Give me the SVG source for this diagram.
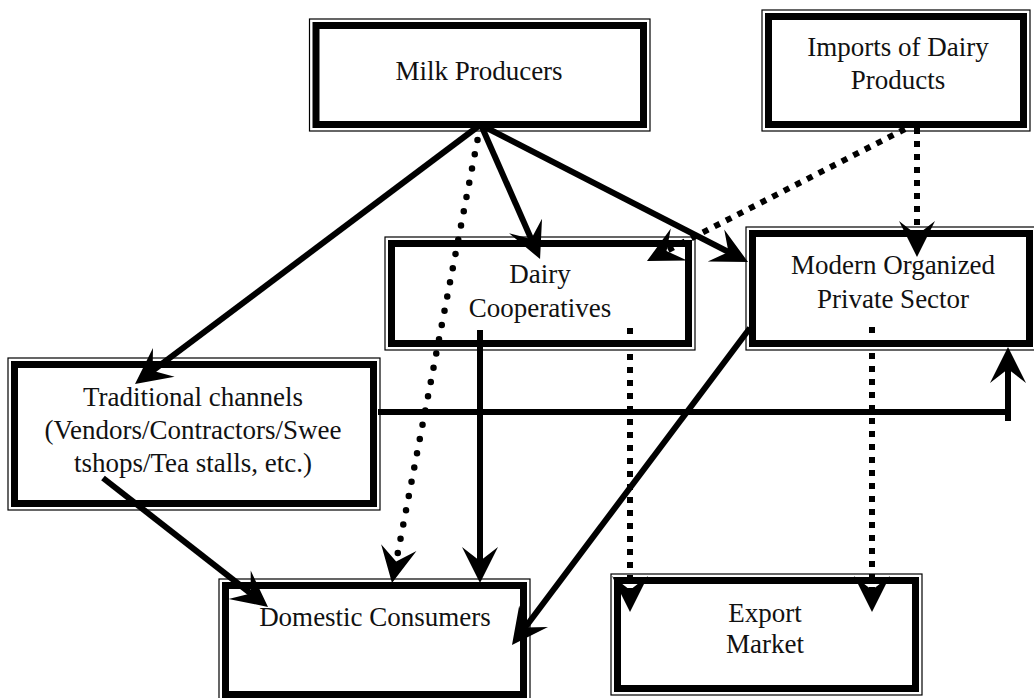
<svg xmlns="http://www.w3.org/2000/svg" width="1034" height="698" viewBox="0 0 1034 698">
<style>
.outer{fill:#fff;stroke:#000;stroke-width:1.2}
.inner{fill:none;stroke:#000;stroke-width:7}
.t{font-family:"Liberation Serif","Times New Roman",serif;font-size:27px;fill:#111;text-anchor:middle}
.solid{fill:none;stroke:#000;stroke-width:6}
.dots{fill:none;stroke:#000;stroke-width:6.5;stroke-linecap:round;stroke-dasharray:0 14.5}
.dash{fill:none;stroke:#000;stroke-width:6;stroke-dasharray:6 7}
</style>
<defs>
<marker id="ah" markerUnits="userSpaceOnUse" markerWidth="36" markerHeight="36" refX="20" refY="18" orient="auto" overflow="visible">
<path d="M0,0 L36,18 L0,36 L14,18 Z" fill="#000"/>
</marker>
</defs>
<rect width="1034" height="698" fill="#fff"/>
<g id="milk-producers">
<rect class="outer" x="309.5" y="19" width="340.5" height="112"/>
<rect class="inner" x="316" y="25.5" width="327.5" height="99"/>
<text class="t" x="479" y="80">Milk Producers</text>
</g>
<g id="imports">
<rect class="outer" x="762" y="10" width="268" height="121"/>
<rect class="inner" x="768.5" y="16.5" width="255" height="108"/>
<text class="t" x="898" y="56">Imports of Dairy</text>
<text class="t" x="898" y="89">Products</text>
</g>
<g id="dairy-cooperatives">
<rect class="outer" x="385" y="237" width="310" height="113"/>
<rect class="inner" x="391.5" y="243.5" width="297" height="100"/>
<text class="t" x="540" y="283">Dairy</text>
<text class="t" x="540" y="317">Cooperatives</text>
</g>
<g id="modern-private">
<rect class="outer" x="746" y="227" width="290" height="123"/>
<rect class="inner" x="752.5" y="233.5" width="277" height="110"/>
<text class="t" x="893" y="274">Modern Organized</text>
<text class="t" x="893" y="308">Private Sector</text>
</g>
<g id="traditional-channels">
<rect class="outer" x="8" y="358" width="372" height="152"/>
<rect class="inner" x="14.5" y="364.5" width="359" height="139"/>
<text class="t" x="193" y="406">Traditional channels</text>
<text class="t" x="193" y="439">(Vendors/Contractors/Swee</text>
<text class="t" x="193" y="472">tshops/Tea stalls, etc.)</text>
</g>
<g id="domestic-consumers">
<rect class="outer" x="219" y="579" width="311" height="122"/>
<rect class="inner" x="225.5" y="585.5" width="298" height="109"/>
<text class="t" x="375" y="626">Domestic Consumers</text>
</g>
<g id="export-market">
<rect class="outer" x="611" y="574" width="311" height="121"/>
<rect class="inner" x="617.5" y="580.5" width="298" height="108"/>
<text class="t" x="765" y="622">Export</text>
<text class="t" x="765" y="653">Market</text>
</g>
<g id="connectors">
<line class="solid" x1="480" y1="125" x2="147.8" y2="374.4" marker-end="url(#ah)"/>
<line class="solid" x1="481" y1="125" x2="533.6" y2="244.4" marker-end="url(#ah)"/>
<line class="solid" x1="481" y1="125" x2="733.8" y2="254.7" marker-end="url(#ah)"/>
<line class="dots" x1="477.5" y1="140" x2="395" y2="567.3" marker-end="url(#ah)"/>
<line class="dash" x1="905" y1="129" x2="661.2" y2="253.7" marker-end="url(#ah)"/>
<line class="dash" x1="917" y1="128" x2="917" y2="241" marker-end="url(#ah)"/>
<line class="solid" x1="480" y1="330" x2="480" y2="567" marker-end="url(#ah)"/>
<line class="dash" x1="630" y1="328" x2="630" y2="596" marker-end="url(#ah)"/>
<line class="dash" x1="872" y1="327" x2="872" y2="596" marker-end="url(#ah)"/>
<line class="solid" x1="750" y1="328" x2="521.6" y2="632.2" marker-end="url(#ah)"/>
<path class="solid" d="M378,412 H1008 M1008,421 V363" marker-end="url(#ah)"/>
<line class="solid" x1="103" y1="478" x2="255.4" y2="597.1" marker-end="url(#ah)"/>
</g>
</svg>
